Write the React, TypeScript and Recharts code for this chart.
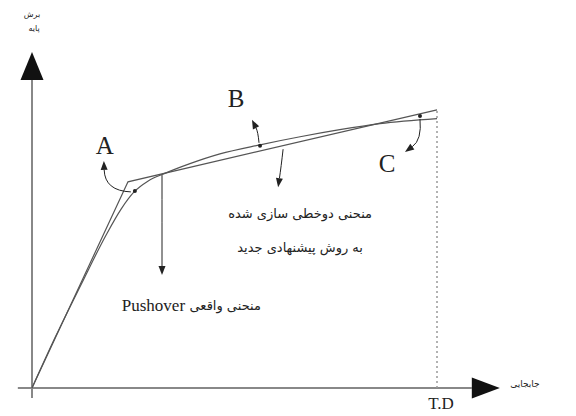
import { LineChart, Line, XAxis, YAxis, ReferenceLine, ReferenceDot } from "recharts";

// displacement, T.D = 100
const bilinearX = [0, 23.7, 100];
const bilinearY = [0, 61.3, 82.7];

const pushoverX = [0, 5.9, 12.1, 18.3, 22.0, 25.2, 28.6, 32.8, 39.0, 46.4, 56.3, 66.2, 76.0, 85.9, 100];
const pushoverY = [0, 15.5, 30.7, 45.5, 53.2, 58.3, 61.5, 63.8, 66.7, 69.6, 72.3, 74.7, 76.8, 78.6, 80.1];

const pointNames = ["A", "B", "C"];
const pointX = [25.4, 56.3, 95.8];
const pointY = [58.6, 72.0, 80.9];

const bilinearLabel = ["منحنی دوخطی سازی شده", "به روش پیشنهادی جدید"];
const pushoverLabel = "منحنی واقعی";
const yLabel = ["برش", "پایه"];
const xLabel = "جابجایی";
const tdLabel = "T.D";

const bilinear = bilinearX.map((x, i) => ({ x, y: bilinearY[i] }));
const pushover = pushoverX.map((x, i) => ({ x, y: pushoverY[i] }));

const ink = "#222";
const lineColor = "#555";

// curved annotation arrow, offsets in px relative to the anchor dot
function arrow(dx1: number, dy1: number, qx: number, qy: number, dx2: number, dy2: number) {
  return (props: any) => {
    const { cx, cy } = props;
    const x1 = cx + dx1, y1 = cy + dy1;
    const x2 = cx + dx2, y2 = cy + dy2;
    const c1 = cx + qx, c2 = cy + qy;
    const ang = Math.atan2(y2 - c2, x2 - c1);
    const len = 9, w = 3.5;
    const bx = x2 - len * Math.cos(ang), by = y2 - len * Math.sin(ang);
    const px = -Math.sin(ang) * w, py = Math.cos(ang) * w;
    return (
      <g>
        <path d={`M${x1},${y1} Q${c1},${c2} ${bx},${by}`} fill="none" stroke={ink} strokeWidth={1} />
        <polygon points={`${x2},${y2} ${bx + px},${by + py} ${bx - px},${by - py}`} fill={ink} />
      </g>
    );
  };
}

function label(text: string, size: number, family: string, anchor: "start" | "middle" | "end" = "middle") {
  return (props: any) => (
    <text
      x={props.cx}
      y={props.cy}
      textAnchor={anchor}
      dominantBaseline="central"
      fontSize={size}
      fontFamily={family}
      fill={ink}
    >
      {text}
    </text>
  );
}

const serif = "'Liberation Serif', 'DejaVu Serif', serif";
const persian = "'DejaVu Sans', sans-serif";

export default function App() {
  const arrows = [
    arrow(-4, 1, -30, 0, -31, -30),
    arrow(-1, -3, -2, -14, -8, -26),
    arrow(0, 3, 2, 24, -15, 36),
  ];
  const letterPos = [
    { x: 18.0, y: 72.0 },
    { x: 50.4, y: 86.0 },
    { x: 87.7, y: 66.6 },
  ];
  return (
    <div style={{ position: "absolute", left: 0, top: 0, width: 576, height: 416, background: "#fff" }}>
      <LineChart width={576} height={416} margin={{ top: 18, right: 58, bottom: 28, left: 32 }}>
        <XAxis dataKey="x" type="number" domain={[0, 120]} hide />
        <YAxis type="number" domain={[0, 110]} hide />

        {/* axes */}
        <ReferenceLine segment={[{ x: -3.5, y: 0 }, { x: 108.6, y: 0 }]} stroke="#888" strokeWidth={2} ifOverflow="visible" />
        <ReferenceLine segment={[{ x: 0, y: -3 }, { x: 0, y: 91.6 }]} stroke="#888" strokeWidth={2} ifOverflow="visible" />
        <ReferenceDot
          x={0}
          y={91.6}
          r={1}
          ifOverflow="visible"
          shape={(p: any) => <polygon points={`${p.cx},${p.cy - 28} ${p.cx - 11.5},${p.cy} ${p.cx + 11.5},${p.cy}`} fill="#111" />}
        />
        <ReferenceDot
          x={108.6}
          y={0}
          r={1}
          ifOverflow="visible"
          shape={(p: any) => <polygon points={`${p.cx + 28},${p.cy} ${p.cx},${p.cy - 10.5} ${p.cx},${p.cy + 10.5}`} fill="#111" />}
        />
        <ReferenceLine segment={[{ x: 100, y: 0 }, { x: 100, y: 82.7 }]} stroke="#999" strokeWidth={1.5} strokeDasharray="2 3" />

        <Line data={bilinear} dataKey="y" type="linear" stroke={lineColor} strokeWidth={1.2} dot={false} isAnimationActive={false} />
        <Line data={pushover} dataKey="y" type="monotone" stroke={lineColor} strokeWidth={1.2} dot={false} isAnimationActive={false} />

        {/* point markers and their arrows */}
        {pointNames.map((n, i) => (
          <ReferenceDot key={"d" + n} x={pointX[i]} y={pointY[i]} r={2} fill={ink} stroke="none" ifOverflow="visible" />
        ))}
        {pointNames.map((n, i) => (
          <ReferenceDot key={"a" + n} x={pointX[i]} y={pointY[i]} r={1} ifOverflow="visible" shape={arrows[i]} />
        ))}
        {pointNames.map((n, i) => (
          <ReferenceDot key={"l" + n} x={letterPos[i].x} y={letterPos[i].y} r={1} ifOverflow="visible" shape={label(n, 25, serif)} />
        ))}

        {/* bilinear curve callout */}
        <ReferenceDot x={62.0} y={71.0} r={1} ifOverflow="visible" shape={arrow(0, 0, -2, 18, -5, 38)} />
        <ReferenceDot x={66.2} y={52.0} r={1} ifOverflow="visible" shape={label(bilinearLabel[0], 13, persian)} />
        <ReferenceDot x={66.2} y={41.9} r={1} ifOverflow="visible" shape={label(bilinearLabel[1], 13, persian)} />

        {/* pushover curve callout */}
        <ReferenceDot x={32.1} y={63.3} r={1} ifOverflow="visible" shape={arrow(0, 0, 0, 50, 0, 100)} />
        <ReferenceDot x={37.8} y={24.4} r={1} ifOverflow="visible" shape={label("Pushover", 17, serif, "end")} />
        <ReferenceDot x={38.9} y={24.4} r={1} ifOverflow="visible" shape={label(pushoverLabel, 13, persian, "start")} />

        {/* axis labels */}
        <ReferenceDot x={101.0} y={-4.6} r={1} ifOverflow="visible" shape={label(tdLabel, 17, serif)} />
        <ReferenceDot x={121.7} y={1.2} r={1} ifOverflow="visible" shape={label(xLabel, 9, persian)} />
        <ReferenceDot x={0} y={111.0} r={1} ifOverflow="visible" shape={label(yLabel[0], 8, persian)} />
        <ReferenceDot x={0.5} y={107.0} r={1} ifOverflow="visible" shape={label(yLabel[1], 8, persian)} />
      </LineChart>
    </div>
  );
}
